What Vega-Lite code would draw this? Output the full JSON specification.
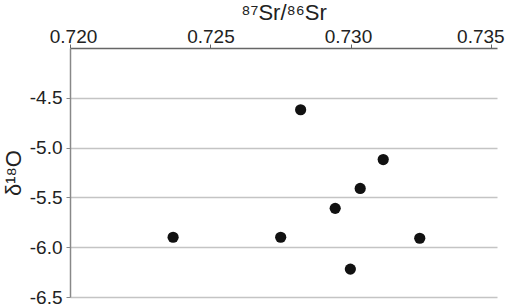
{
  "$schema": "https://vega.github.io/schema/vega-lite/v6.json",
  "width": 427,
  "height": 249,
  "autosize": "none",
  "padding": {"left": 70, "top": 48, "right": 14, "bottom": 9},
  "background": "white",
  "config": {
    "view": {"stroke": null},
    "font": "Liberation Sans"
  },
  "data": {
    "values": [
      {"sr": 0.72821, "d18o": -4.62},
      {"sr": 0.73115, "d18o": -5.12},
      {"sr": 0.73033, "d18o": -5.41},
      {"sr": 0.72944, "d18o": -5.61},
      {"sr": 0.72367, "d18o": -5.90},
      {"sr": 0.7275, "d18o": -5.90},
      {"sr": 0.73245, "d18o": -5.91},
      {"sr": 0.72998, "d18o": -6.22}
    ]
  },
  "mark": {"type": "point", "filled": true, "color": "#111111", "opacity": 1, "size": 125},
  "encoding": {
    "x": {
      "field": "sr",
      "type": "quantitative",
      "scale": {"domain": [0.72, 0.7352], "nice": false, "zero": false},
      "axis": {
        "orient": "top",
        "values": [0.72, 0.725, 0.73, 0.735],
        "format": ".3f",
        "title": "⁸⁷Sr/⁸⁶Sr",
        "titleFontSize": 22,
        "titleFontWeight": "normal",
        "titleColor": "#222222",
        "titlePadding": 3,
        "labelFontSize": 19,
        "labelColor": "#222222",
        "labelPadding": -2,
        "labelOffset": {
          "condition": [
            {"test": "datum.value > 0.734", "value": -11},
            {"test": "datum.value > 0.729", "value": -3},
            {"test": "datum.value < 0.721", "value": 3}
          ],
          "value": 0
        },
        "tickSize": 4,
        "tickColor": "#666666",
        "domainColor": "#666666",
        "domainWidth": 1.5,
        "grid": false,
        "labelFlush": false
      }
    },
    "y": {
      "field": "d18o",
      "type": "quantitative",
      "scale": {"domain": [-6.5, -4.0], "nice": false, "zero": false},
      "axis": {
        "values": [-4.5, -5.0, -5.5, -6.0, -6.5],
        "format": ".1f",
        "labelExpr": "replace(datum.label, '−', '-')",
        "title": "δ¹⁸O",
        "titleFontSize": 22,
        "titleFontWeight": "normal",
        "titleColor": "#222222",
        "titlePadding": 4,
        "labelFontSize": 19,
        "labelColor": "#222222",
        "labelPadding": 4,
        "tickSize": 4,
        "tickColor": "#888888",
        "domainColor": "#888888",
        "domainWidth": 1.5,
        "grid": true,
        "gridColor": "#c4c4c4",
        "gridWidth": 1.3,
        "labelFlush": false
      }
    }
  }
}
